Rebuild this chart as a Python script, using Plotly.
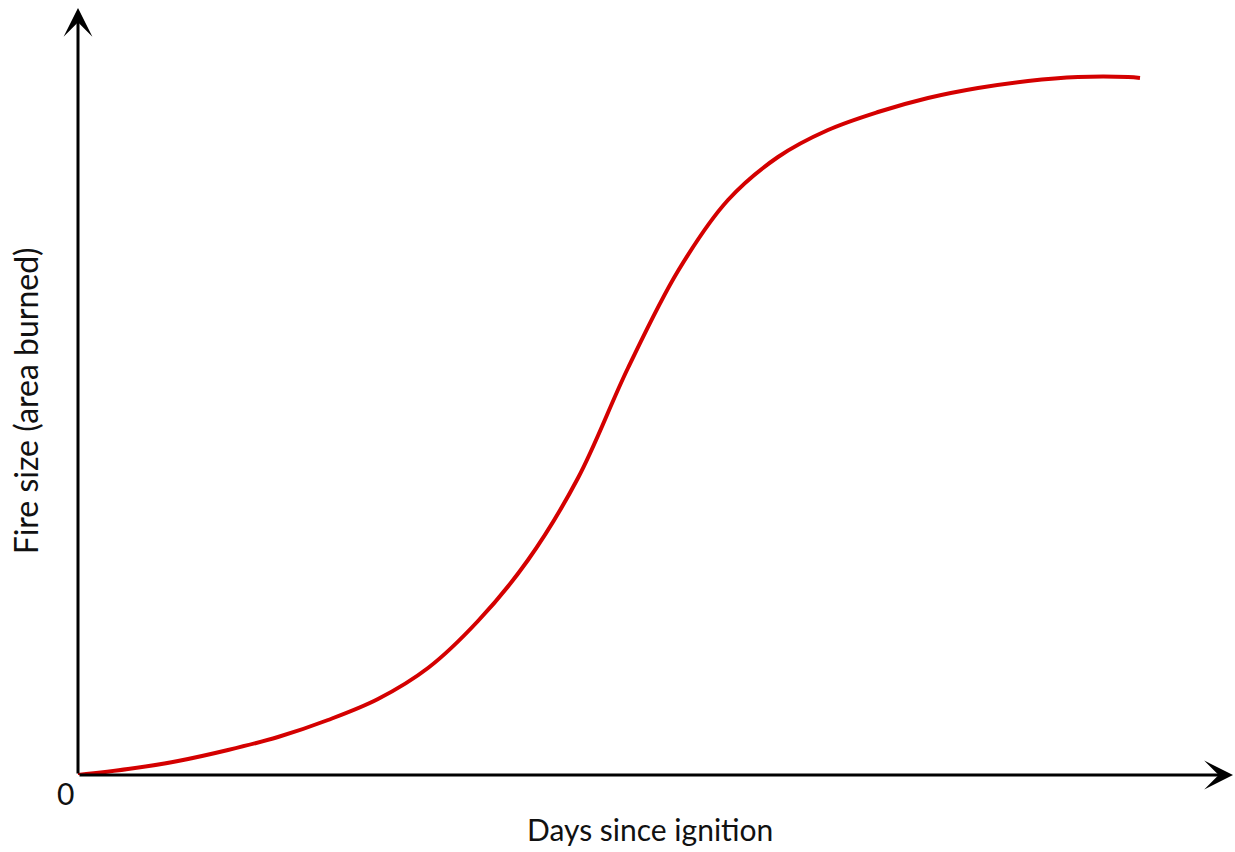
import plotly.graph_objects as go

# Days since ignition (arbitrary units) and fire size (area burned, arbitrary units)
days = [0.0, 0.5, 1.0, 1.5, 2.0, 2.5, 3.0, 3.5, 4.0, 4.5, 5.0, 5.5, 6.0,
        6.5, 7.0, 7.5, 8.0, 8.5, 9.0, 9.5, 10.0, 10.5, 10.62]
area = [0.0, 0.06, 0.14, 0.25, 0.38, 0.55, 0.76, 1.07, 1.54, 2.15, 2.97, 4.07, 5.04,
        5.75, 6.18, 6.45, 6.63, 6.77, 6.87, 6.94, 6.98, 6.98, 6.97]

x_max = 11.57
y_max = 7.67
origin_label = "0"
x_title = "Days since ignition"
y_title = "Fire size (area burned)"

FONT = "Lato, 'Open Sans', sans-serif"
TXT = "#111111"

fig = go.Figure()
fig.add_trace(go.Scatter(
    x=days, y=area, mode="lines",
    line=dict(color="#d40000", width=4, shape="spline", smoothing=1.0),
    cliponaxis=False, showlegend=False, hoverinfo="skip",
))

# Axis arrows
fig.add_annotation(x=0, y=1.0, xref="x", yref="paper", ax=0, ay=767,
                   text="", showarrow=True, arrowhead=3, arrowsize=1.6, arrowwidth=3,
                   arrowcolor="black", standoff=0, startstandoff=0)
fig.add_annotation(x=x_max - 0.02, y=0, xref="x", yref="y", ax=-1155, ay=0,
                   text="", showarrow=True, arrowhead=3, arrowsize=1.6, arrowwidth=3,
                   arrowcolor="black", standoff=0, startstandoff=0)

# Labels
fig.add_annotation(x=-0.0112, y=-0.0235, xref="paper", yref="paper", text=origin_label,
                   xanchor="center", yanchor="middle",
                   showarrow=False, font=dict(family=FONT, size=30, color=TXT))
fig.add_annotation(x=0.4945, y=-0.0705, xref="paper", yref="paper", text=x_title,
                   xanchor="center", yanchor="middle",
                   showarrow=False, font=dict(family=FONT, size=30, color=TXT))
fig.add_annotation(x=-0.0455, y=0.4876, xref="paper", yref="paper", text=y_title,
                   xanchor="center", yanchor="middle", textangle=-90,
                   showarrow=False, font=dict(family=FONT, size=32, color=TXT))

fig.update_xaxes(range=[0, x_max], visible=False, fixedrange=True)
fig.update_yaxes(range=[0, y_max], visible=False, fixedrange=True)
fig.update_layout(
    width=1235, height=852,
    margin=dict(l=78, r=0, t=8, b=77),
    plot_bgcolor="white", paper_bgcolor="white",
    showlegend=False,
)

fig.write_html(
    "out.html",
    config={"displayModeBar": False},
    post_script="document.body.style.margin='0';document.body.style.overflow='hidden';",
)
